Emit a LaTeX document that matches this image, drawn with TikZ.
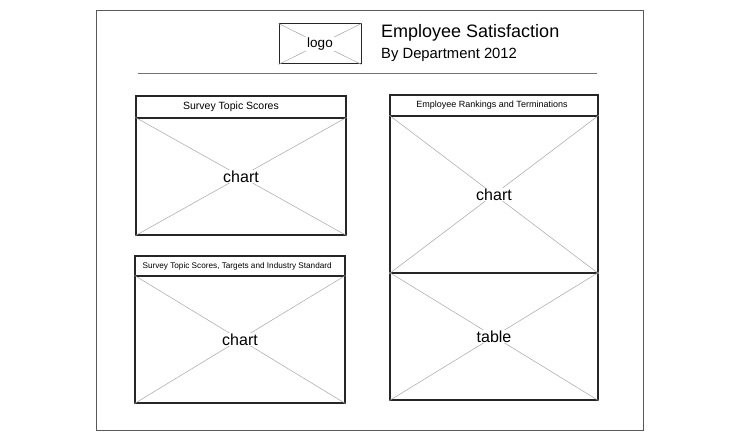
\documentclass[tikz,border=0pt]{standalone}
\usepackage{fontspec}
\setmainfont{Liberation Sans}
\begin{document}
\begin{tikzpicture}[x=1pt,y=-1pt,
  panel/.style={draw=black!85, line width=1.3pt, inner sep=0pt, minimum width=#1},
  frame/.style={draw=black!65, line width=0.8pt, inner sep=0pt},
  cross/.style={draw=black!35, line width=0.5pt},
  rule/.style={draw=black!55, line width=0.6pt},
  headtext/.style={font=\fontsize{#1}{#1}\selectfont},
  bodytext/.style={font=\fontsize{16}{18}\selectfont, fill=white, inner sep=1pt}]
\useasboundingbox[fill=white] (0,0) rectangle (750,444);

% page outline
\node[frame, minimum width=547pt, minimum height=420pt] (page) at (369.5,220) {};

% header: logo placeholder and title
\node[panel=82pt, minimum height=40pt, line width=1pt] (logo) at (320,44) {};
\draw[cross] (logo.north west) -- (logo.south east) (logo.south west) -- (logo.north east);
\node[fill=white, inner sep=1pt, font=\fontsize{13.5}{15}\selectfont] (logotext) at (logo.center) {logo};
\node[anchor=west, inner sep=0pt, font=\fontsize{18}{20}\selectfont] (title) at (381,33) {Employee Satisfaction};
\node[anchor=west, inner sep=0pt, font=\fontsize{14.8}{16}\selectfont] (subtitle) at (381,55) {By Department 2012};
\coordinate (ruleL) at (138,73);
\coordinate (ruleR) at (597,73);
\draw[rule] (ruleL) -- (ruleR);

% left top panel
\node[panel=210pt, minimum height=22pt] (ltHead) at (241,107) {};
\node[panel=210pt, minimum height=117pt] (ltBody) at (241,176.5) {};
\node[headtext=10.5] (ltTitle) at (231,107) {Survey Topic Scores};
\draw[cross] (ltBody.north west) -- (ltBody.south east) (ltBody.south west) -- (ltBody.north east);
\node[bodytext] (ltLabel) at (ltBody.center) {chart};

% left bottom panel
\node[panel=210pt, minimum height=20pt] (lbHead) at (240,266) {};
\node[panel=210pt, minimum height=127pt] (lbBody) at (240,339.5) {};
\node[headtext=8.2, anchor=west] (lbTitle) at (139,266) {Survey Topic Scores, Targets and Industry Standard};
\draw[cross] (lbBody.north west) -- (lbBody.south east) (lbBody.south west) -- (lbBody.north east);
\node[bodytext] (lbLabel) at (lbBody.center) {chart};

% right panel: chart above table
\node[panel=208pt, minimum height=21pt] (rHead) at (494,105.5) {};
\node[panel=208pt, minimum height=157pt] (rChart) at (494,194.5) {};
\node[panel=208pt, minimum height=127pt] (rTable) at (494,336.5) {};
\node[headtext=9] (rTitle) at (492,105.5) {Employee Rankings and Terminations};
\draw[cross] (rChart.north west) -- (rChart.south east) (rChart.south west) -- (rChart.north east);
\draw[cross] (rTable.north west) -- (rTable.south east) (rTable.south west) -- (rTable.north east);
\node[bodytext] (rChartLabel) at (rChart.center) {chart};
\node[bodytext] (rTableLabel) at (rTable.center) {table};
\end{tikzpicture}
\end{document}
